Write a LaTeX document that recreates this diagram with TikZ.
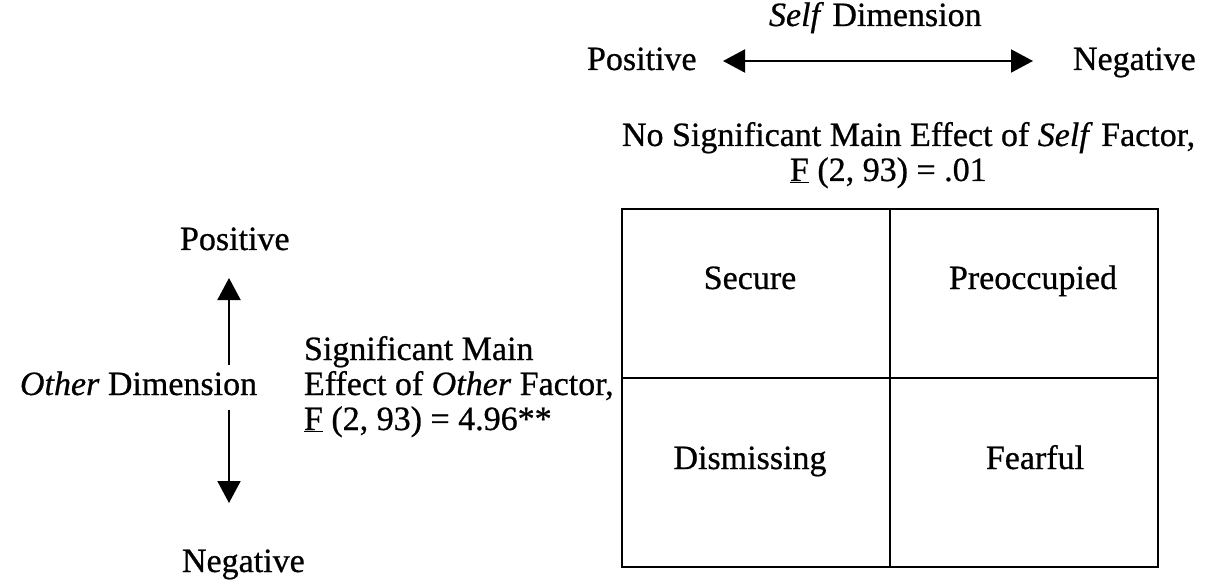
\documentclass[tikz,border=0pt]{standalone}
\usepackage{fontspec}
\setmainfont{Liberation Serif}[FakeBold=0.7]
\usetikzlibrary{arrows.meta}
\begin{document}
\begin{tikzpicture}[x=1pt,y=-1pt,
  lbl/.style={inner sep=0pt,outer sep=0pt,anchor=base west,font=\fontsize{34}{40}\selectfont},
  cell/.style={inner sep=0pt,anchor=base,font=\fontsize{34}{40}\selectfont},
  head/.style={Triangle[length=22pt,width=23pt]},
  dimarrow/.style={line width=2pt,-{Triangle[length=22pt,width=23pt]}},
  botharrow/.style={line width=2pt,{Triangle[length=22pt,width=23pt]}-{Triangle[length=22pt,width=23pt]}},
  grid/.style={line width=2.5pt}]
\useasboundingbox (0,0) rectangle (1229,580);
% top dimension
\node[lbl] (selfdim) at (769,26) {\textit{Self} Dimension};
\node[lbl] (tpos) at (587,70) {Positive};
\node[lbl] (tneg) at (1073,70) {Negative};
\coordinate (tl) at (723,61);
\coordinate (tr) at (1033,61);
\draw[botharrow] (tl) -- (tr);
% self factor text
\node[lbl] (nosig) at (622,146) {No Significant Main Effect of \textit{Self} Factor,};
\node[lbl] (fself) at (790,181) {\underline{F} (2, 93) = .01};
% box
\coordinate (bl) at (622,209);
\coordinate (br) at (1158,567);
\draw[grid] (bl) rectangle (br);
\draw[grid] (890,209) -- (890,567);
\draw[grid] (622,378) -- (1158,378);
\node[cell] (secure) at (750,289) {Secure};
\node[cell] (preocc) at (1033,289) {Preoccupied};
\node[cell] (dismiss) at (750,469) {Dismissing};
\node[cell] (fearful) at (1035,469) {Fearful};
% left dimension
\node[lbl] (lpos) at (180,250) {Positive};
\node[lbl] (odim) at (20,395) {\textit{Other} Dimension};
\node[lbl] (lneg) at (182,572) {Negative};
\coordinate (up0) at (229,365);
\coordinate (up1) at (229,278);
\coordinate (dn0) at (229,410);
\coordinate (dn1) at (229,503);
\draw[dimarrow] (up0) -- (up1);
\draw[dimarrow] (dn0) -- (dn1);
% other factor text
\node[lbl] (sig1) at (304,360) {Significant Main};
\node[lbl] (sig2) at (304,395) {Effect of \textit{Other} Factor,};
\node[lbl] (sig3) at (304,430) {\underline{F} (2, 93) = 4.96**};
\end{tikzpicture}
\end{document}
